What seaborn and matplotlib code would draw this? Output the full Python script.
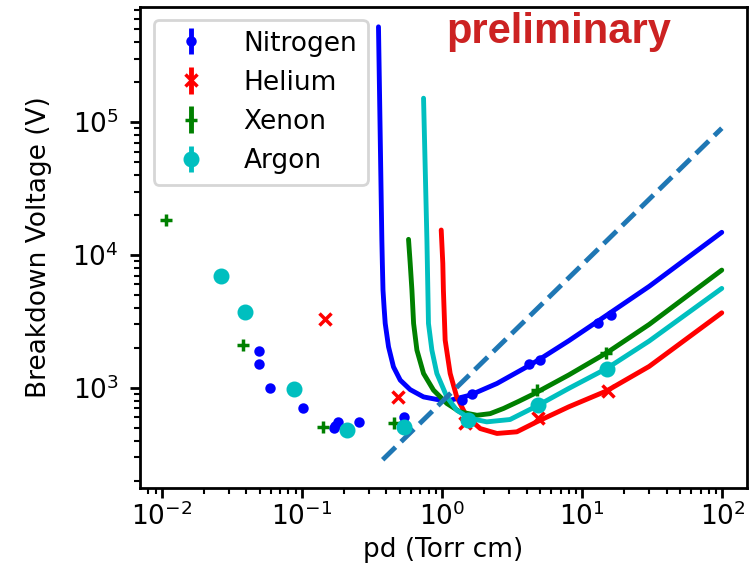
import seaborn as sns
import matplotlib.pyplot as plt

# ----- Paschen curves -----
n2_curve_x = [0.351, 0.371, 0.374, 0.378, 0.385, 0.392, 0.414, 0.449, 0.502, 0.591, 0.736, 0.916,
              1.14, 1.58, 2.46, 4.02, 5.0, 8.0, 14.95, 30, 98.9]
n2_curve_y = [5.2e5, 12900, 8650, 5440, 4000, 3055, 2037, 1439, 1143, 970, 855, 818,
              807, 881, 1079, 1440, 1650, 2260, 3524, 5800, 14800]

he_curve_x = [0.984, 1.01, 1.02, 1.05, 1.14, 1.27, 1.50, 1.87, 2.46, 3.41, 4.73, 8.0, 14.95, 30, 98.9]
he_curve_y = [15400, 8650, 5440, 2285, 1283, 855, 605, 494, 454, 467, 555, 720, 950, 1450, 3670]

xe_curve_x = [0.575, 0.591, 0.608, 0.625, 0.660, 0.736, 0.867, 1.08, 1.34, 1.77, 2.2, 2.74, 3.5,
              4.5, 8.0, 14.95, 30, 98.9]
xe_curve_y = [13100, 8650, 5440, 3055, 1923, 1283, 961, 763, 659, 622, 640, 700, 790,
              900, 1250, 1836, 3000, 7690]

ar_curve_x = [0.736, 0.778, 0.790, 0.798, 0.844, 0.916, 1.08, 1.27, 1.58, 2.08, 3.05, 4.73, 8.0,
              14.95, 30, 98.9]
ar_curve_y = [1.51e5, 12940, 5440, 3055, 1923, 1283, 855, 679, 589, 555, 578, 730, 990,
              1400, 2250, 5600]

# dashed reference line
line_x = [0.376, 99]
line_y = [288, 89800]

# ----- measured points -----
n2_x = [0.049, 0.049, 0.0586, 0.1015, 0.168, 0.172, 0.180, 0.253, 0.530, 1.38, 1.63, 4.18, 5.0, 13.0, 16.0]
n2_y = [1900, 1507, 1006, 703, 495, 515, 555, 555, 605, 807, 907, 1507, 1615, 3055, 3510]

he_x = [0.1464, 0.483, 1.46, 4.86, 15.3]
he_y = [3290, 855, 540, 589, 940]

xe_x = [0.01075, 0.0379, 0.141, 0.45, 4.73, 14.8]
xe_y = [18300, 2100, 504, 548, 961, 1815]

ar_x = [0.0264, 0.0392, 0.0875, 0.209, 0.530, 1.54, 4.82, 14.95]
ar_y = [6930, 3700, 984, 486, 504, 571, 741, 1383]

sns.set_style('ticks')
plt.rcParams['font.family'] = ['DejaVu Sans']
plt.rcParams['mathtext.fontset'] = 'dejavusans'
plt.rcParams['font.size'] = 19
for key in ['text.color', 'axes.labelcolor', 'xtick.color', 'ytick.color']:
    plt.rcParams[key] = 'black'

fig, ax = plt.subplots(figsize=(7.55, 5.65), dpi=100)
fig.subplots_adjust(left=0.186, right=0.989, bottom=0.136, top=0.988)
ax.set_xscale('log')
ax.set_yscale('log')

curves = [(n2_curve_x, n2_curve_y, 'b'),
          (he_curve_x, he_curve_y, 'r'),
          (xe_curve_x, xe_curve_y, 'g'),
          (ar_curve_x, ar_curve_y, 'c')]
for cx, cy, col in curves:
    sns.lineplot(x=cx, y=cy, color=col, lw=3.5, sort=False, estimator=None,
                 legend=False, solid_joinstyle='round', ax=ax)

sns.lineplot(x=line_x, y=line_y, color='#1f77b4', lw=3.5, linestyle='--',
             sort=False, estimator=None, legend=False, ax=ax)

# points with (tiny) error bars
points = [(n2_x, n2_y, '.', 'b', 10, 'Nitrogen'),
          (he_x, he_y, 'x', 'r', 8, 'Helium'),
          (xe_x, xe_y, '+', 'g', 8, 'Xenon'),
          (ar_x, ar_y, 'o', 'c', 9, 'Argon')]
for px, py, mk, col, ms, lab in points:
    ax.errorbar(px, py, yerr=0, fmt=mk, color=col, ms=ms, mew=2.5,
                elinewidth=3.5, capsize=0, label=lab, zorder=5)

ax.set_xlim(0.00702, 149)
ax.set_ylim(176, 7.36e5)

ax.set_xlabel('pd (Torr cm)')
ax.set_ylabel('Breakdown Voltage (V)', labelpad=15)

for s in ax.spines.values():
    s.set_linewidth(2)
    s.set_color('black')
ax.tick_params(which='major', length=7, width=2, labelsize=19)
ax.tick_params(which='minor', length=4, width=1.5)
ax.tick_params(axis='y', which='major', pad=8.5)

leg = ax.legend(loc='upper left', fontsize=19, frameon=True, fancybox=True,
                edgecolor='0.8', framealpha=0.8, handletextpad=1.0)
leg.get_frame().set_linewidth(2)

ax.text(0.69, 0.925, 'preliminary', transform=ax.transAxes, ha='center',
        va='baseline', fontsize=30, fontweight='bold', color='#cc2222',
        family=['Liberation Sans', 'DejaVu Sans'])

plt.savefig('out.png', dpi=100)
